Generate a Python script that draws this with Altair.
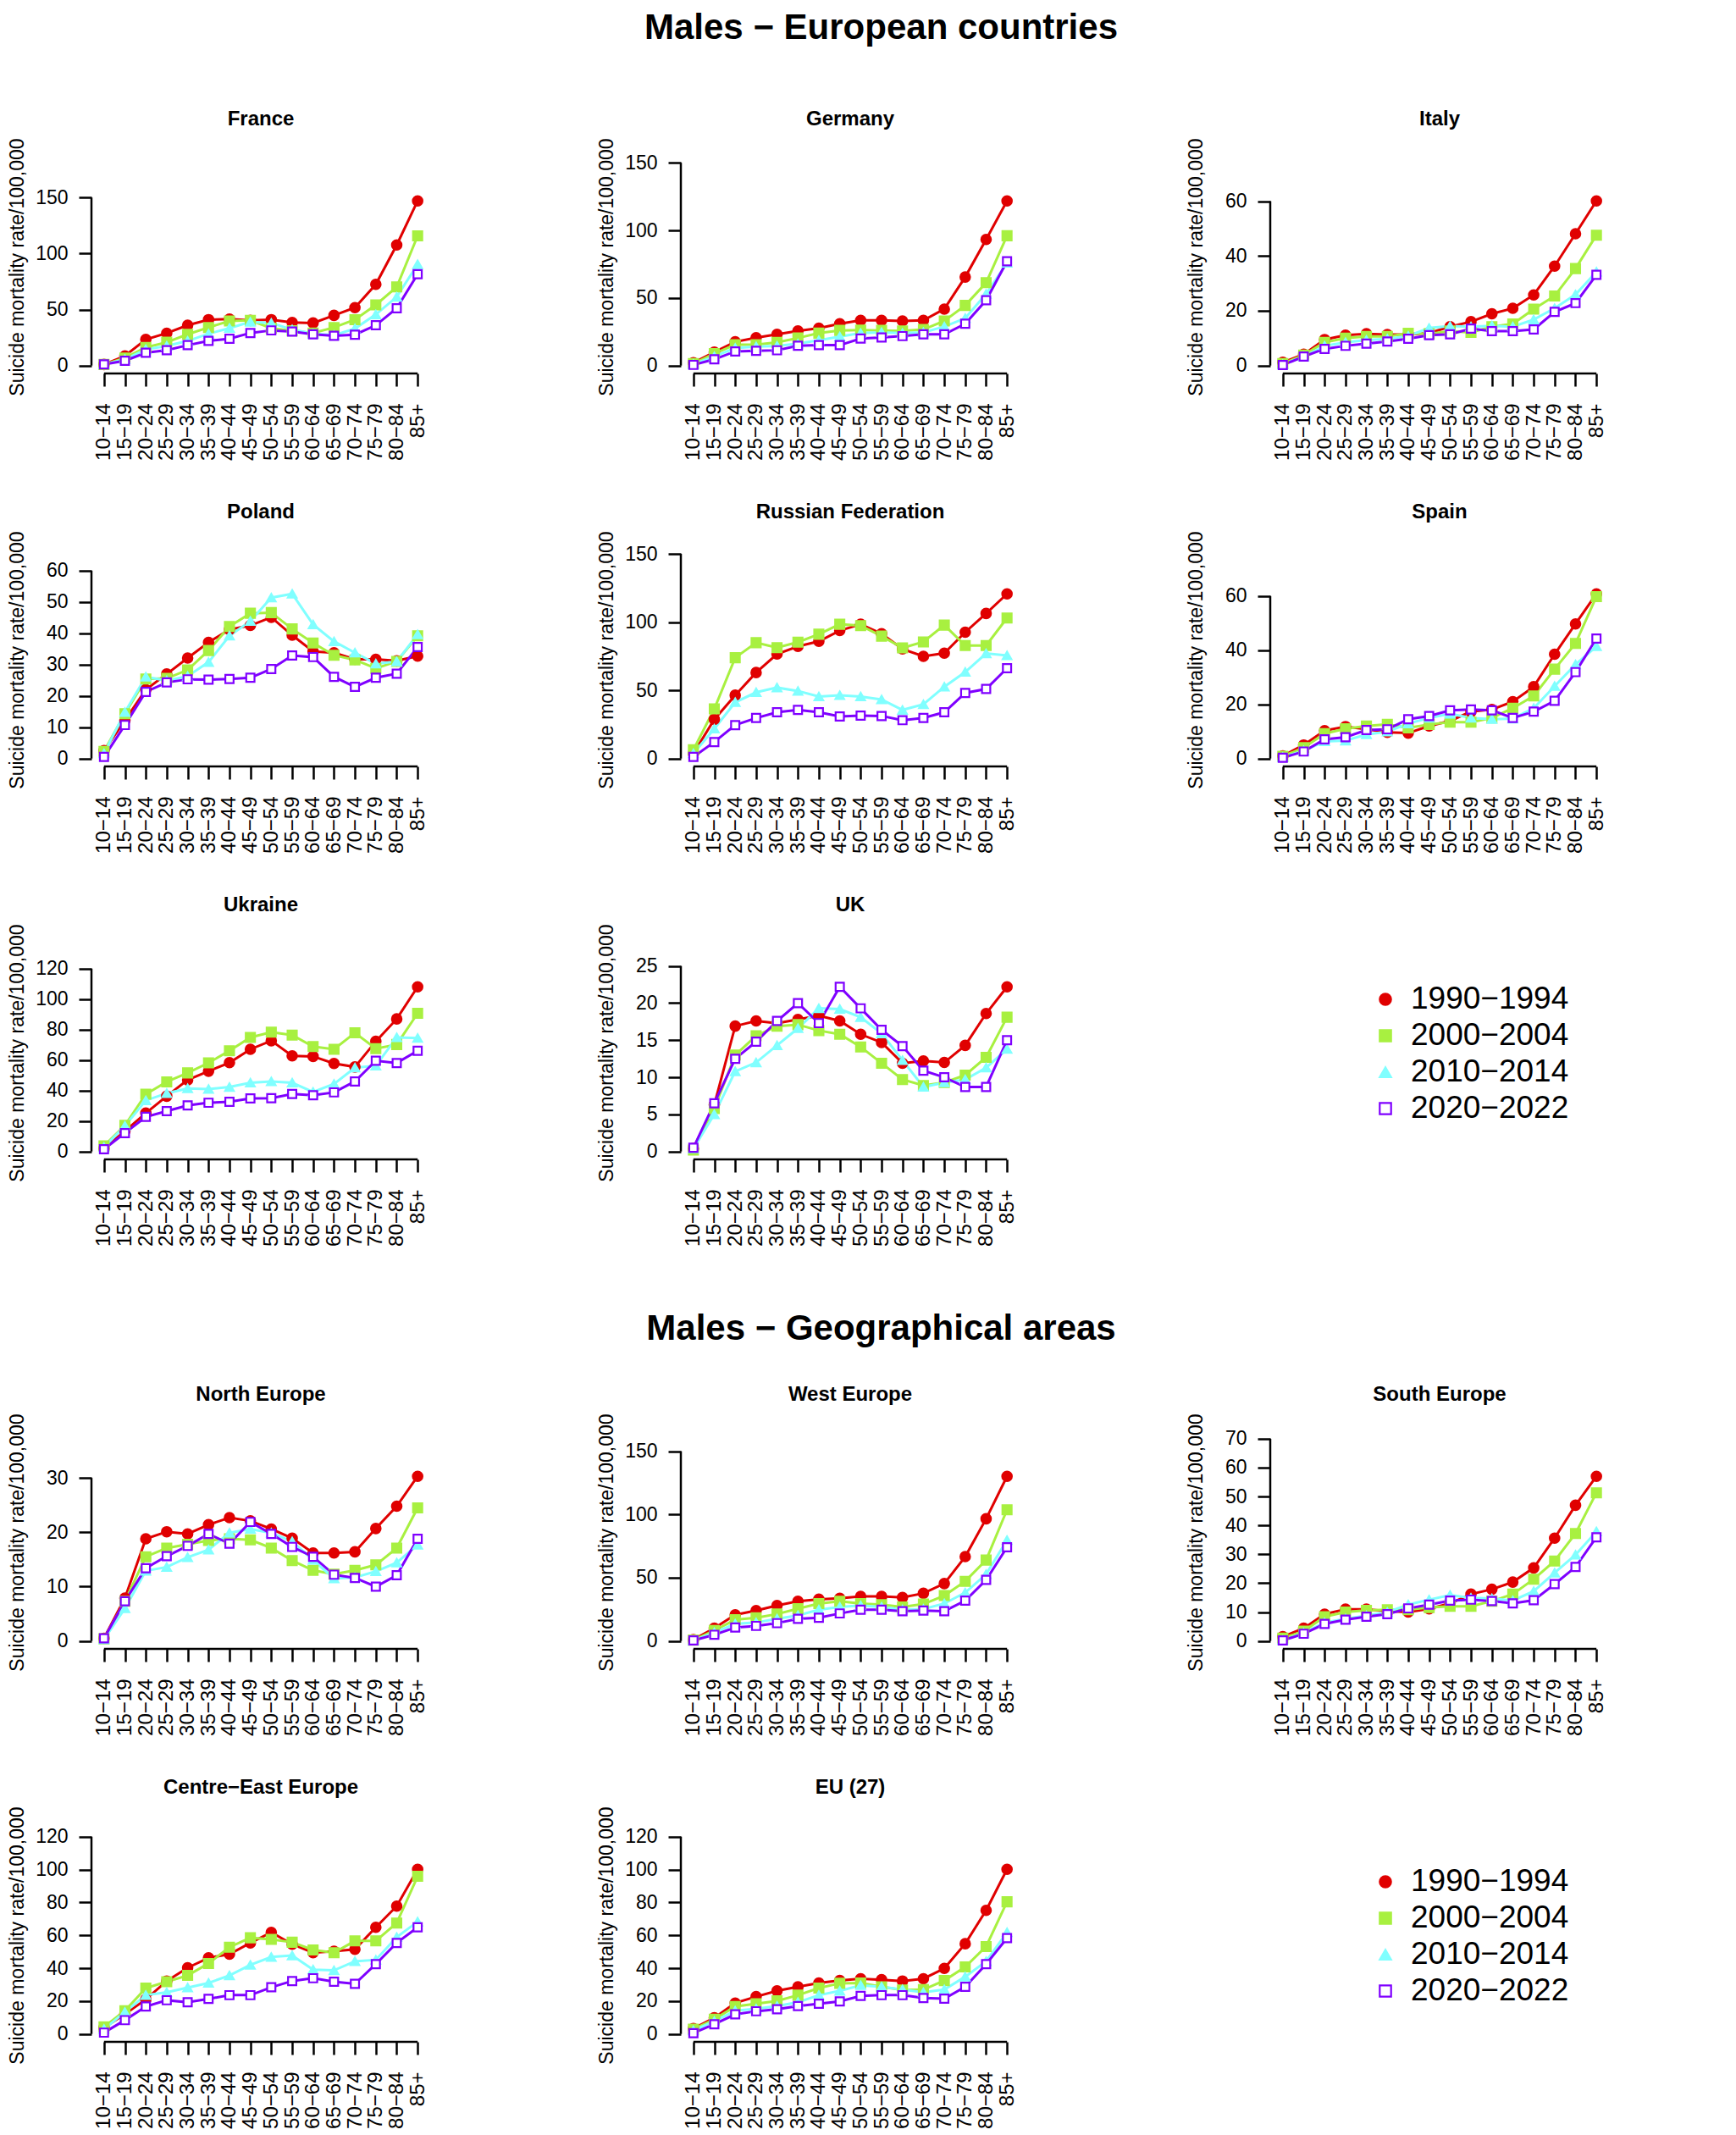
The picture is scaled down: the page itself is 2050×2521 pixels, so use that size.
import altair as alt
import pandas as pd

AGES = ["10−14", "15−19", "20−24", "25−29", "30−34", "35−39", "40−44", "45−49",
        "50−54", "55−59", "60−64", "65−69", "70−74", "75−79", "80−84", "85+"]
PERIODS = ["1990−1994", "2000−2004", "2010−2014", "2020−2022"]
LINE_COLORS = ["#E00000", "#A8F040", "#80FFFF", "#7F00FF"]
FILL_COLORS = ["#E00000", "#A8F040", "#80FFFF", "#FFFFFF"]
SHAPES = ["circle", "square", "triangle-up", "square"]
SIZES = [130, 95, 120, 115]

# ---------------- European countries ----------------
FRANCE_1990 = [1.0, 8.6, 23.3, 28.9, 36.0, 41.0, 41.5, 40.3, 41.0, 38.5, 38.0, 44.8, 51.7, 72.5, 107.7, 147.0]
FRANCE_2000 = [1.0, 6.8, 16.2, 20.8, 27.9, 34.0, 39.8, 40.3, 33.4, 31.0, 29.0, 34.0, 41.0, 54.2, 70.2, 115.8]
FRANCE_2010 = [1.0, 5.6, 14.4, 17.5, 22.0, 28.4, 33.4, 39.0, 38.0, 32.2, 28.4, 27.1, 33.0, 45.6, 61.3, 90.4]
FRANCE_2020 = [1.0, 4.3, 11.4, 13.7, 18.2, 22.0, 24.0, 29.1, 31.4, 30.4, 27.9, 26.6, 27.6, 36.0, 51.2, 81.6]

GERMANY_1990 = [2.1, 9.9, 17.6, 20.6, 23.1, 25.6, 27.7, 30.9, 33.4, 33.4, 33.0, 33.4, 41.8, 65.5, 93.3, 121.8]
GERMANY_2000 = [1.5, 8.8, 15.5, 15.5, 17.2, 20.4, 24.0, 26.0, 26.3, 26.0, 25.6, 26.7, 33.0, 44.5, 61.3, 96.0]
GERMANY_2010 = [1.0, 6.7, 13.0, 14.1, 14.5, 16.2, 18.7, 21.4, 24.0, 24.6, 24.0, 24.6, 28.8, 35.0, 53.0, 76.0]
GERMANY_2020 = [0.5, 4.6, 10.5, 10.9, 11.3, 14.7, 15.1, 15.1, 20.0, 20.8, 21.8, 23.1, 23.1, 30.9, 48.3, 77.1]

ITALY_1990 = [1.2, 4.1, 9.5, 11.1, 11.6, 11.3, 11.3, 11.9, 14.2, 16.0, 18.9, 20.9, 25.8, 36.3, 48.1, 60.1]
ITALY_2000 = [0.7, 3.8, 8.5, 10.0, 10.6, 10.6, 11.8, 11.6, 12.6, 12.1, 14.2, 15.2, 20.6, 25.4, 35.4, 47.6]
ITALY_2010 = [0.4, 3.3, 7.2, 8.5, 9.3, 9.7, 10.8, 13.7, 14.4, 14.2, 14.5, 14.2, 16.8, 20.9, 25.9, 34.2]
ITALY_2020 = [0.2, 3.3, 6.1, 7.2, 8.0, 8.8, 9.8, 11.1, 11.4, 13.5, 12.6, 12.6, 13.2, 19.6, 22.8, 33.1]

POLAND_1990 = [2.5, 12.2, 22.0, 27.0, 32.1, 37.1, 41.2, 42.5, 45.1, 39.4, 34.2, 33.8, 31.7, 31.7, 31.2, 32.7]
POLAND_2000 = [2.3, 14.3, 25.4, 25.6, 28.3, 34.5, 42.2, 46.4, 46.6, 41.4, 36.9, 33.0, 31.5, 28.8, 31.0, 39.2]
POLAND_2010 = [1.6, 14.8, 26.1, 24.9, 26.3, 30.8, 39.2, 43.9, 51.4, 52.6, 42.8, 37.4, 33.8, 30.3, 31.0, 39.6]
POLAND_2020 = [0.5, 10.7, 21.3, 24.3, 25.3, 25.2, 25.4, 25.8, 28.6, 32.9, 32.4, 26.1, 22.9, 25.8, 27.1, 35.6]

RUSSIA_1990 = [3.7, 28.7, 46.4, 63.0, 76.6, 82.2, 85.9, 93.8, 98.4, 91.5, 80.3, 74.9, 77.2, 92.6, 106.3, 120.7]
RUSSIA_2000 = [6.4, 36.4, 73.9, 84.9, 81.3, 85.3, 91.1, 98.4, 97.4, 89.7, 81.1, 85.5, 97.8, 82.8, 82.8, 103.0]
RUSSIA_2010 = [3.7, 21.8, 41.2, 48.5, 52.0, 49.5, 45.4, 46.4, 45.4, 43.3, 35.6, 39.7, 52.6, 63.4, 77.0, 75.5]
RUSSIA_2020 = [1.2, 12.1, 24.5, 29.7, 33.9, 35.6, 33.9, 30.8, 31.4, 31.2, 28.1, 29.7, 33.9, 48.1, 51.0, 66.2]

SPAIN_1990 = [1.0, 5.0, 10.3, 11.8, 10.8, 9.7, 9.4, 12.0, 13.9, 17.3, 18.1, 21.0, 26.5, 38.5, 49.7, 60.8]
SPAIN_2000 = [0.8, 4.0, 9.2, 11.0, 12.0, 12.6, 11.3, 12.6, 13.4, 13.4, 15.0, 18.6, 23.1, 33.0, 42.5, 59.8]
SPAIN_2010 = [0.5, 2.9, 6.3, 6.6, 8.9, 9.9, 12.9, 15.0, 16.5, 15.0, 14.5, 14.7, 18.6, 26.7, 34.7, 41.4]
SPAIN_2020 = [0.3, 2.6, 7.1, 7.9, 10.5, 10.8, 14.5, 15.7, 17.8, 18.1, 17.8, 15.0, 17.3, 21.3, 31.9, 44.3]

UKRAINE_1990 = [1.9, 13.4, 25.2, 36.3, 47.0, 52.7, 58.3, 67.1, 72.7, 62.8, 62.4, 57.8, 55.5, 72.3, 87.0, 108.1]
UKRAINE_2000 = [3.7, 17.1, 37.6, 45.7, 51.6, 58.2, 66.1, 74.9, 78.3, 76.4, 68.9, 67.1, 77.9, 67.5, 70.2, 90.7]
UKRAINE_2010 = [2.8, 16.8, 33.5, 38.2, 41.4, 41.0, 42.3, 45.1, 46.0, 45.1, 39.1, 44.3, 55.0, 56.3, 74.9, 74.5]
UKRAINE_2020 = [1.5, 12.1, 22.7, 26.5, 30.2, 32.0, 32.6, 34.8, 35.0, 37.8, 36.9, 38.8, 46.0, 59.6, 58.1, 66.1]

UK_1990 = [0.4, 6.3, 16.9, 17.6, 17.3, 17.8, 18.3, 17.6, 15.8, 14.7, 11.9, 12.2, 12.0, 14.3, 18.6, 22.2]
UK_2000 = [0.2, 5.8, 13.0, 15.6, 16.9, 17.1, 16.3, 15.8, 14.1, 11.9, 9.7, 8.9, 9.3, 10.3, 12.7, 18.1]
UK_2010 = [0.4, 5.0, 10.8, 12.0, 14.3, 16.6, 19.3, 19.2, 18.1, 15.9, 12.3, 8.7, 9.3, 9.7, 11.3, 13.8]
UK_2020 = [0.5, 6.5, 12.5, 14.8, 17.6, 20.0, 17.3, 22.2, 19.3, 16.4, 14.2, 10.9, 10.0, 8.7, 8.7, 15.0]

# ---------------- Geographical areas ----------------
NORTH_1990 = [0.5, 7.9, 18.8, 20.1, 19.7, 21.4, 22.7, 22.1, 20.6, 18.9, 16.2, 16.2, 16.4, 20.7, 24.8, 30.3]
NORTH_2000 = [0.4, 7.3, 15.5, 17.1, 17.8, 18.5, 18.8, 18.6, 17.1, 14.8, 13.0, 12.3, 13.0, 14.0, 17.1, 24.5]
NORTH_2010 = [0.3, 6.0, 12.9, 13.6, 15.4, 16.8, 19.9, 20.6, 19.9, 18.3, 14.9, 11.5, 11.7, 12.8, 14.4, 17.7]
NORTH_2020 = [0.5, 7.3, 13.4, 15.6, 17.5, 19.7, 17.9, 21.9, 19.7, 17.3, 15.5, 12.2, 11.6, 10.0, 12.1, 18.8]

WEST_1990 = [1.1, 10.1, 20.7, 24.0, 28.1, 31.4, 33.0, 33.7, 35.3, 35.3, 34.4, 37.7, 45.4, 66.7, 96.6, 130.2]
WEST_2000 = [0.7, 8.3, 16.8, 18.4, 21.3, 25.6, 29.6, 31.4, 29.6, 28.7, 26.9, 29.2, 35.9, 47.2, 64.0, 103.7]
WEST_2010 = [0.4, 6.7, 13.5, 14.6, 17.5, 20.2, 24.7, 26.9, 28.1, 26.9, 24.7, 25.2, 29.6, 38.2, 52.8, 79.7]
WEST_2020 = [0.4, 4.9, 10.6, 11.9, 14.1, 17.5, 18.4, 21.8, 24.7, 24.7, 23.6, 24.0, 23.6, 31.9, 48.3, 74.1]

SOUTH_1990 = [1.5, 4.4, 9.3, 11.0, 11.0, 10.3, 10.0, 11.1, 13.0, 16.2, 17.9, 20.4, 25.3, 35.6, 47.0, 57.0]
SOUTH_2000 = [1.0, 3.4, 8.4, 10.0, 10.6, 10.8, 10.8, 11.6, 12.0, 12.0, 13.8, 16.2, 21.4, 27.7, 37.2, 51.3]
SOUTH_2010 = [0.3, 2.8, 6.4, 7.7, 8.8, 10.0, 12.6, 14.3, 15.9, 14.9, 14.7, 14.0, 17.2, 23.6, 29.8, 37.9]
SOUTH_2020 = [0.2, 2.5, 5.9, 7.4, 8.4, 9.3, 11.3, 12.6, 14.0, 14.3, 13.8, 13.0, 14.1, 19.7, 25.6, 35.9]

CENTRE_EAST_1990 = [3.8, 12.0, 21.0, 32.2, 40.3, 46.3, 48.5, 55.4, 61.8, 54.6, 49.4, 50.3, 51.5, 64.9, 77.8, 100.2]
CENTRE_EAST_2000 = [4.3, 14.1, 27.9, 31.8, 35.6, 42.9, 52.8, 58.5, 57.5, 55.8, 51.1, 49.4, 56.6, 56.6, 67.5, 95.9]
CENTRE_EAST_2010 = [2.9, 13.3, 23.6, 25.3, 28.2, 31.0, 35.6, 42.0, 46.8, 47.7, 39.1, 38.7, 44.2, 45.1, 58.9, 68.3]
CENTRE_EAST_2020 = [0.8, 8.4, 16.7, 20.5, 19.3, 21.3, 23.6, 23.6, 28.4, 32.2, 33.9, 31.8, 30.5, 42.5, 55.4, 64.9]

EU27_1990 = [3.3, 9.8, 18.8, 22.7, 26.2, 28.7, 31.0, 32.5, 33.6, 33.0, 32.2, 33.6, 39.9, 54.9, 75.2, 100.2]
EU27_2000 = [2.9, 8.9, 16.7, 18.4, 20.1, 23.6, 27.9, 30.8, 31.0, 28.7, 26.7, 27.0, 32.5, 40.8, 53.2, 80.4]
EU27_2010 = [2.1, 7.7, 14.1, 15.3, 17.0, 19.3, 23.6, 26.2, 29.6, 28.7, 27.0, 25.3, 27.0, 34.8, 44.2, 61.8]
EU27_2020 = [0.5, 5.9, 11.9, 13.8, 15.0, 17.0, 18.4, 19.8, 23.1, 23.6, 23.6, 21.9, 21.5, 28.7, 42.5, 58.3]

TICKS_150 = [0, 50, 100, 150]
TICKS_60 = [0, 20, 40, 60]
TICKS_60_10 = [0, 10, 20, 30, 40, 50, 60]
TICKS_120 = [0, 20, 40, 60, 80, 100, 120]
TICKS_25 = [0, 5, 10, 15, 20, 25]
TICKS_30 = [0, 10, 20, 30]
TICKS_70 = [0, 10, 20, 30, 40, 50, 60, 70]

FONT = "Liberation Sans"
W, H = 400, 252
YTITLE = "Suicide mortality rate/100,000"

SHAPE_SCALE = alt.Scale(domain=PERIODS, range=SHAPES)
FILL_SCALE = alt.Scale(domain=PERIODS, range=FILL_COLORS)
STROKE_SCALE = alt.Scale(domain=PERIODS, range=LINE_COLORS)
SIZE_SCALE = alt.Scale(domain=PERIODS, range=SIZES)


def make_panel(title, series, yticks):
    rows = [{"age": a, "rate": v, "period": p}
            for p, vals in zip(PERIODS, series) for a, v in zip(AGES, vals)]
    df = pd.DataFrame(rows)
    ylim = 1.2 * df["rate"].max()          # R-style ylim = c(0, 1.2*max)
    ysc = alt.Scale(domain=[-0.04 * ylim, 1.04 * ylim], nice=False, zero=False)
    xsc = alt.Scale(type="point", domain=AGES, padding=0.6)

    xaxis = alt.Axis(title=None, domain=False, grid=False, labelAngle=270,
                     tickSize=15, tickWidth=2.5, labelPadding=20, labelFontSize=24)
    yaxis = alt.Axis(title=YTITLE, values=yticks, domain=False, grid=False,
                     tickSize=15, tickWidth=2.5, labelPadding=13,
                     labelFontSize=23, titleFontSize=23, titlePadding=16,
                     minExtent=60, maxExtent=60)
    x = alt.X("age:N", scale=xsc, sort=AGES, axis=xaxis)
    y = alt.Y("rate:Q", scale=ysc, axis=yaxis)

    one = pd.DataFrame({"k": [0]})
    yline = alt.Chart(one).mark_rule(color="black", strokeWidth=2.5).encode(
        x=alt.value(0),
        y=alt.Y(datum=yticks[0], type="quantitative", scale=ysc, axis=yaxis),
        y2=alt.Y2(datum=yticks[-1]),
    )
    xline = alt.Chart(one).mark_rule(color="black", strokeWidth=2.5).encode(
        y=alt.value(H),
        x=alt.X(datum=AGES[0], type="nominal", scale=xsc, axis=xaxis),
        x2=alt.X2(datum=AGES[-1]),
    )
    base = alt.Chart(df)
    lines = base.mark_line(strokeWidth=3).encode(
        x=x, y=y,
        color=alt.Color("period:N", scale=alt.Scale(domain=PERIODS, range=LINE_COLORS),
                        legend=None),
    )
    points = base.mark_point(filled=True, opacity=1, strokeWidth=2.2).encode(
        x=x, y=y,
        shape=alt.Shape("period:N", scale=SHAPE_SCALE, legend=None),
        fill=alt.Fill("period:N", scale=FILL_SCALE, legend=None),
        stroke=alt.Stroke("period:N", scale=STROKE_SCALE, legend=None),
        size=alt.Size("period:N", scale=SIZE_SCALE, legend=None),
    )
    return alt.layer(yline, xline, lines, points).properties(
        width=W, height=H,
        title=alt.TitleParams(title, font=FONT, fontSize=24, fontWeight="bold",
                              color="black", offset=10),
    )


def make_legend_panel():
    ldf = pd.DataFrame({"period": PERIODS})
    ysc = alt.Scale(type="point", domain=PERIODS, range=[63, 192], padding=0)
    base = alt.Chart(ldf)
    sym = base.mark_point(filled=True, opacity=1, strokeWidth=2.2, size=180).encode(
        x=alt.value(136),
        y=alt.Y("period:N", scale=ysc, axis=None),
        shape=alt.Shape("period:N", scale=SHAPE_SCALE, legend=None),
        fill=alt.Fill("period:N", scale=FILL_SCALE, legend=None),
        stroke=alt.Stroke("period:N", scale=STROKE_SCALE, legend=None),
    )
    txt = base.mark_text(align="left", baseline="middle", font=FONT, fontSize=37,
                         color="black").encode(
        x=alt.value(166),
        y=alt.Y("period:N", scale=ysc, axis=None),
        text="period:N",
    )
    return alt.layer(sym, txt).properties(width=W, height=H)


panels1 = [
    make_panel("France", [FRANCE_1990, FRANCE_2000, FRANCE_2010, FRANCE_2020], TICKS_150),
    make_panel("Germany", [GERMANY_1990, GERMANY_2000, GERMANY_2010, GERMANY_2020], TICKS_150),
    make_panel("Italy", [ITALY_1990, ITALY_2000, ITALY_2010, ITALY_2020], TICKS_60),
    make_panel("Poland", [POLAND_1990, POLAND_2000, POLAND_2010, POLAND_2020], TICKS_60_10),
    make_panel("Russian Federation", [RUSSIA_1990, RUSSIA_2000, RUSSIA_2010, RUSSIA_2020], TICKS_150),
    make_panel("Spain", [SPAIN_1990, SPAIN_2000, SPAIN_2010, SPAIN_2020], TICKS_60),
    make_panel("Ukraine", [UKRAINE_1990, UKRAINE_2000, UKRAINE_2010, UKRAINE_2020], TICKS_120),
    make_panel("UK", [UK_1990, UK_2000, UK_2010, UK_2020], TICKS_25),
    make_legend_panel(),
]
panels2 = [
    make_panel("North Europe", [NORTH_1990, NORTH_2000, NORTH_2010, NORTH_2020], TICKS_30),
    make_panel("West Europe", [WEST_1990, WEST_2000, WEST_2010, WEST_2020], TICKS_150),
    make_panel("South Europe", [SOUTH_1990, SOUTH_2000, SOUTH_2010, SOUTH_2020], TICKS_70),
    make_panel("Centre−East Europe", [CENTRE_EAST_1990, CENTRE_EAST_2000, CENTRE_EAST_2010, CENTRE_EAST_2020], TICKS_120),
    make_panel("EU (27)", [EU27_1990, EU27_2000, EU27_2010, EU27_2020], TICKS_120),
    make_legend_panel(),
]

sec1 = alt.concat(*panels1, columns=3, spacing={"row": 212, "column": 296},
                  bounds="flush").resolve_scale(x="independent", y="independent").properties(
    title=alt.TitleParams("Males − European countries", font=FONT, fontSize=42,
                          fontWeight="bold", color="black", offset=74, anchor="middle", dx=86))
sec2 = alt.concat(*panels2, columns=3, spacing={"row": 212, "column": 296},
                  bounds="flush").resolve_scale(x="independent", y="independent").properties(
    title=alt.TitleParams("Males − Geographical areas", font=FONT, fontSize=42,
                          fontWeight="bold", color="black", offset=44, anchor="middle", dx=86))

chart = alt.vconcat(sec1, sec2, spacing=75).properties(
    padding={"left": 0, "top": 3, "right": 5, "bottom": 0}
).configure_view(
    stroke=None
).configure_axis(
    labelFont=FONT, titleFont=FONT, labelColor="black", titleColor="black",
    tickColor="black", titleFontWeight="normal",
)

chart.save("out.html", embed_options={"renderer": "svg", "actions": False})
